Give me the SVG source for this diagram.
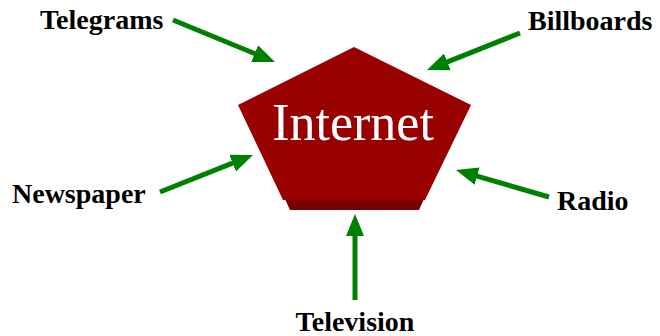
<svg xmlns="http://www.w3.org/2000/svg" width="660" height="336" viewBox="0 0 660 336">
<style>
.lbl{font-family:"Liberation Serif","Times New Roman",serif;font-weight:bold;font-size:28px;fill:#000}
.conn line{stroke:#008000;stroke-width:5}
</style>
<defs>
<marker id="ah" markerUnits="userSpaceOnUse" markerWidth="24" markerHeight="20" viewBox="0 -10 24 20" refX="10" refY="0" orient="auto">
<path d="M0,-9 L22,0 L0,9 z" fill="#008000"/>
</marker>
</defs>
<rect width="660" height="336" fill="#fff"/>
<g id="internet">
<polygon points="285,199 424,199 419,210 290,210" fill="#770000"/>
<polygon points="354,47 471,105 425,200 283,200 238,105" fill="#990000"/>
<text x="353" y="140" text-anchor="middle" font-family="Liberation Serif, Times New Roman, serif" font-size="52" fill="#fff">Internet</text>
</g>
<g id="telegrams"><text class="lbl" x="40" y="29">Telegrams</text></g>
<g id="billboards"><text class="lbl" x="528" y="30">Billboards</text></g>
<g id="newspaper"><text class="lbl" x="12" y="203">Newspaper</text></g>
<g id="radio"><text class="lbl" x="557" y="210">Radio</text></g>
<g id="television"><text class="lbl" x="355" y="331" text-anchor="middle">Television</text></g>
<g id="connectors" class="conn">
<line x1="173" y1="20" x2="263.9" y2="57.4" marker-end="url(#ah)"/>
<line x1="520" y1="33" x2="438.1" y2="65.6" marker-end="url(#ah)"/>
<line x1="160" y1="192" x2="241.9" y2="159.4" marker-end="url(#ah)"/>
<line x1="549" y1="197" x2="467.5" y2="173.3" marker-end="url(#ah)"/>
<line x1="355" y1="300" x2="355" y2="226" marker-end="url(#ah)"/>
</g>
</svg>
